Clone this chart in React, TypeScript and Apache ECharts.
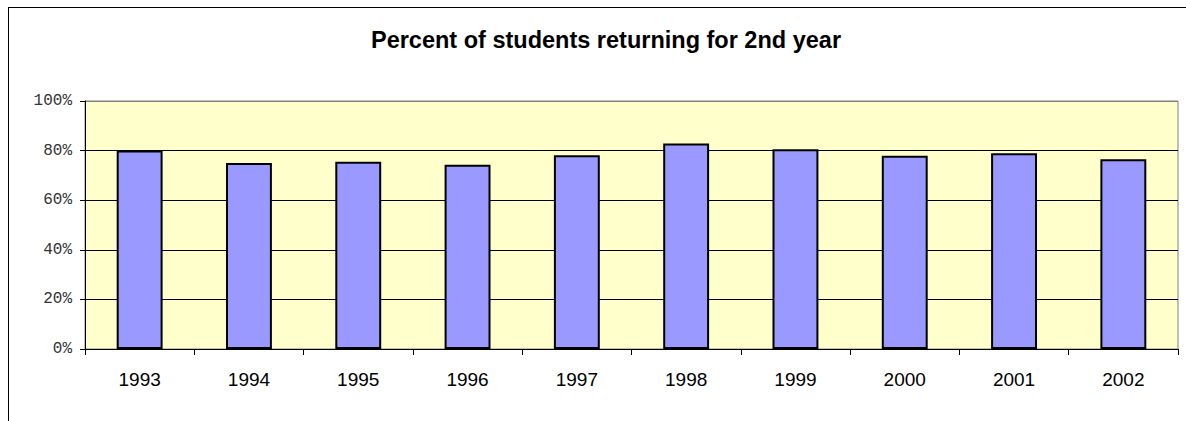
import React, { useEffect, useRef } from "react";
import * as echarts from "echarts";

const years = ["1993", "1994", "1995", "1996", "1997", "1998", "1999", "2000", "2001", "2002"];
const returning = [80.0, 75.0, 75.5, 74.3, 78.1, 82.9, 80.5, 77.9, 78.9, 76.5];
const yTicks = [0, 20, 40, 60, 80, 100];

export default function App() {
  const ref = useRef<HTMLDivElement>(null);
  useEffect(() => {
    if (!ref.current) return;
    const chart = echarts.init(ref.current, null, { renderer: "svg" });
    chart.setOption({
      animation: false,
      backgroundColor: "#ffffff",
      title: {
        text: "Percent of students returning for 2nd year",
        left: 601,
        textAlign: "center",
        top: 23,
        textStyle: { fontFamily: "Liberation Sans, Arial", fontWeight: "bold", fontSize: 23.5, color: "#000" },
      },
      grid: {
        left: 85,
        right: 8,
        top: 101,
        bottom: 72,
        show: true,
        backgroundColor: "#FFFFCC",
        borderColor: "#808080",
        borderWidth: 1,
      },
      xAxis: {
        type: "category",
        data: years,
        axisLine: { lineStyle: { color: "#000", width: 1 } },
        axisTick: { show: true, alignWithLabel: false, length: 6, lineStyle: { color: "#000" } },
        axisLabel: { fontFamily: "Liberation Sans, Arial", fontSize: 19, color: "#000", margin: 21 },
        splitLine: { show: false },
      },
      yAxis: {
        type: "value",
        min: yTicks[0],
        max: yTicks[yTicks.length - 1],
        interval: 20,
        axisLine: { show: true, lineStyle: { color: "#000", width: 1 } },
        axisTick: { show: true, length: 5, lineStyle: { color: "#000" } },
        axisLabel: {
          fontFamily: "Liberation Mono, Courier New, monospace",
          fontSize: 16,
          color: "#333",
          margin: 13,
          formatter: (v: number) => v + "%",
        },
        splitLine: { show: true, lineStyle: { color: ["#000", "#000", "#000", "#000", "#000", "#808080"], width: 1 } },
      },
      series: [
        {
          type: "bar",
          data: returning,
          barWidth: "42%",
          itemStyle: { color: "#9999FF", borderColor: "#000", borderWidth: 2 },
        },
      ],
    });
    return () => chart.dispose();
  }, []);
  return (
    <div style={{ position: "absolute", left: 0, top: 0, width: 1186, height: 421, overflow: "hidden" }}>
      <div ref={ref} style={{ position: "absolute", left: 0, top: 0, width: 1186, height: 421 }} />
      <div
        style={{
          position: "absolute",
          left: 8,
          top: 7,
          width: 1200,
          height: 430,
          borderTop: "1px solid #000",
          borderLeft: "1px solid #000",
          pointerEvents: "none",
        }}
      />
    </div>
  );
}
